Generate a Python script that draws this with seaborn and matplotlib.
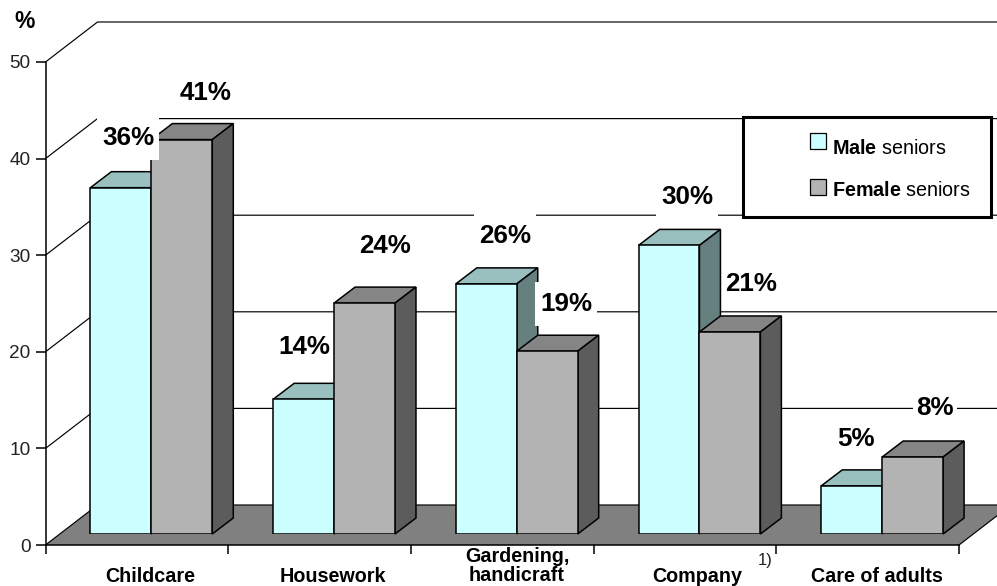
import matplotlib
matplotlib.use("Agg")
import matplotlib.pyplot as plt
from matplotlib.patches import Patch, Polygon, Rectangle
from matplotlib.transforms import Affine2D
import pandas as pd
import seaborn as sns

# Survey data
activities = ["Childcare", "Housework", "Gardening,\nhandicraft", "Company", "Care of adults"]
male_share = [36, 14, 26, 30, 5]
female_share = [41, 24, 19, 21, 8]
group_names = ["Male", "Female"]
y_ticks = [0, 10, 20, 30, 40, 50]

# Figure geometry, in pixels
W, H = 997, 586
AXIS_LEFT, AXIS_RIGHT, AXIS_ZERO, AXIS_TOP = 45.5, 959, 545, 62
WALL_DX, WALL_DY = 52, 40
BAR_DX, BAR_DY = 21, 16
BAR_SHIFT_X, BAR_SHIFT_Y = 14.5, 11
BAR_UNIT = 9.62

# Value-label centres in pixels, and the width of the white plate behind each (0 = none)
male_label_xy = [(128, 138), (304, 347), (505, 236), (687, 197), (856, 439)]
female_label_xy = [(206, 93), (385, 246), (566, 304), (751, 284), (935, 408)]
male_plate = [62, 0, 62, 62, 0]
female_plate = [0, 0, 62, 0, 44]

FRONT = {"Male": "#CCFFFF", "Female": "#B3B3B3"}
TOP = {"Male": "#99BFBF", "Female": "#858585"}
SIDE = {"Male": "#668080", "Female": "#5C5C5C"}

sns.set_theme(style="white")
plt.rcParams["font.family"] = ["Liberation Sans", "DejaVu Sans"]
plt.rcParams["text.color"] = "black"
plt.rcParams["mathtext.fontset"] = "custom"
plt.rcParams["mathtext.bf"] = "Liberation Sans:bold"
plt.rcParams["mathtext.rm"] = "Liberation Sans"

fig = plt.figure(figsize=(W / 100, H / 100), dpi=100, facecolor="white")
pixels = Affine2D().scale(1 / W, -1 / H).translate(0, 1) + fig.transFigure

# Back wall, floor and value axis
ax = fig.add_axes([AXIS_LEFT / W, (H - AXIS_ZERO) / H,
                   (AXIS_RIGHT - AXIS_LEFT) / W, (AXIS_ZERO - AXIS_TOP) / H])
ax.patch.set_alpha(0)
n_groups = len(activities)
ax.set_xlim(0, n_groups)
ax.set_ylim(0, y_ticks[-1])
unit_x = (AXIS_RIGHT - AXIS_LEFT) / n_groups
unit_y = (AXIS_ZERO - AXIS_TOP) / y_ticks[-1]
wall_dx, wall_dy = WALL_DX / unit_x, WALL_DY / unit_y
x_far = n_groups + 1

ax.add_patch(Polygon([(0, 0), (wall_dx, wall_dy), (n_groups + wall_dx, wall_dy),
                      (n_groups, 0)],
                     closed=True, facecolor="#808080", edgecolor="none",
                     clip_on=False, zorder=1))
for tick in y_ticks:
    ax.plot([0, wall_dx, x_far], [tick, tick + wall_dy, tick + wall_dy],
            color="black", lw=0.85, clip_on=False, zorder=2)
ax.plot([n_groups, n_groups + wall_dx], [0, wall_dy],
        color="black", lw=0.85, clip_on=False, zorder=2)

sns.despine(ax=ax, top=True, right=True)
for side in ("left", "bottom"):
    ax.spines[side].set_linewidth(1.1)
    ax.spines[side].set_color("black")
    ax.spines[side].set_zorder(3)
ax.set_yticks(y_ticks)
ax.tick_params(axis="y", length=7.2, width=1.1, pad=3.5, labelsize=13.7,
               left=True, color="black", labelcolor="#222222")
ax.set_xticks(range(n_groups + 1))
ax.tick_params(axis="x", which="major", length=6.5, width=1.1, bottom=True,
               color="black", labelbottom=False)

# Category names are centred under their bar groups, not between axis ticks
name_px = [150, 333, 517, 697, 877]
ax.set_xticks([(px - AXIS_LEFT) / unit_x for px in name_px], minor=True)
ax.set_xticklabels(activities, minor=True, fontweight="bold", fontsize=14.2,
                   color="black", linespacing=1.0)
ax.tick_params(axis="x", which="minor", length=0, pad=16, bottom=True)
ax.xaxis.get_minor_ticks()[2].set_pad(1.5)
ax.set_ylabel("")
ax.set_xlabel("")

# Bars sit on the floor, slightly in from the front edge
bar_ax = fig.add_axes([(AXIS_LEFT + BAR_SHIFT_X) / W,
                       (H - AXIS_ZERO + BAR_SHIFT_Y) / H,
                       (AXIS_RIGHT - AXIS_LEFT) / W,
                       BAR_UNIT * y_ticks[-1] / H])
bar_ax.patch.set_alpha(0)
table = pd.DataFrame({
    "activity": activities * 2,
    "group": ["Male"] * n_groups + ["Female"] * n_groups,
    "share": male_share + female_share,
})
sns.barplot(data=table, x="activity", y="share", hue="group",
            hue_order=group_names, palette=FRONT, width=0.667, gap=0,
            saturation=1, edgecolor="black", linewidth=1.1, legend=False,
            ax=bar_ax)
bar_ax.set_xlim(-0.5, n_groups - 0.5)
bar_ax.set_ylim(0, y_ticks[-1])
bar_ax.axis("off")

# Extrude each bar with a top and a side face
depth_x, depth_y = BAR_DX / unit_x, BAR_DY / BAR_UNIT
for order, (name, bars) in enumerate(zip(group_names, bar_ax.containers)):
    for bar in bars:
        x0, x1 = bar.get_x(), bar.get_x() + bar.get_width()
        top = bar.get_height()
        bar.set_zorder(3.1 + order)
        bar.set_joinstyle("miter")
        bar_ax.add_patch(Polygon(
            [(x0, top), (x0 + depth_x, top + depth_y),
             (x1 + depth_x, top + depth_y), (x1, top)],
            closed=True, facecolor=TOP[name], edgecolor="black", lw=1.1,
            clip_on=False, zorder=3 + order))
        bar_ax.add_patch(Polygon(
            [(x1, 0), (x1 + depth_x, depth_y),
             (x1 + depth_x, top + depth_y), (x1, top)],
            closed=True, facecolor=SIDE[name], edgecolor="black", lw=1.1,
            clip_on=False, zorder=3 + order))

# Value labels; some carry a white plate that interrupts what lies behind them
PLATE_H = 44
for values, places, plates in ((male_share, male_label_xy, male_plate),
                               (female_share, female_label_xy, female_plate)):
    for value, (px, py), plate_w in zip(values, places, plates):
        if plate_w:
            bar_ax.add_patch(Rectangle((px - plate_w / 2, py - PLATE_H / 2),
                                       plate_w, PLATE_H, transform=pixels,
                                       facecolor="white", edgecolor="none",
                                       clip_on=False, zorder=7))
        bar_ax.text(px, py, f"{value}%", transform=pixels, ha="center",
                    va="center", fontsize=18.7, fontweight="bold", color="black",
                    zorder=8, clip_on=False)

# Legend panel
bar_ax.add_patch(Rectangle((743, 117), 248, 100, transform=pixels,
                           facecolor="white", edgecolor="black", lw=2.2,
                           clip_on=False, zorder=9))
handles = [Patch(facecolor=FRONT[g], edgecolor="black", lw=0.9) for g in group_names]
labels = [r"$\mathbf{Male}$ seniors", r"$\mathbf{Female}$ seniors"]
legend = bar_ax.legend(handles, labels, frameon=False, fontsize=14.2,
                       loc="upper left", bbox_to_anchor=(810, 139),
                       bbox_transform=pixels, borderaxespad=0, borderpad=0,
                       handlelength=0.82, handleheight=0.85, handletextpad=0.3,
                       labelspacing=1.15, labelcolor="black")
legend.set_zorder(10)
# The swatches sit a little above their text
for swatch, lift in zip(legend.legend_handles, (4.3, 1.5)):
    swatch.set_y(swatch.get_y() + lift)

bar_ax.text(25, 21, "%", transform=pixels, ha="center", va="center",
            fontsize=16.5, fontweight="bold", color="black", clip_on=False)
bar_ax.text(765, 560, "1)", transform=pixels, ha="center", va="center",
            fontsize=12, color="#222222", clip_on=False)

fig.savefig("out.png", dpi=100)
